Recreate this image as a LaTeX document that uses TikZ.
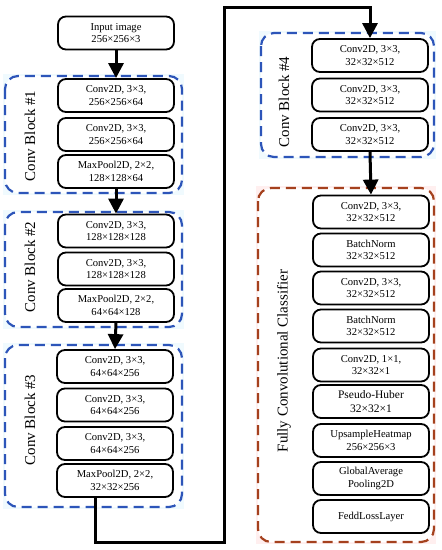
\documentclass[tikz,border=0pt]{standalone}
\usepackage{fontspec}
\setmainfont{Liberation Serif}
\usetikzlibrary{arrows.meta}
\definecolor{blockblue}{RGB}{45,85,185}
\definecolor{clsred}{RGB}{165,65,30}
\begin{document}
\begin{tikzpicture}[x=1pt,y=-1pt,
  layer/.style={draw=black,line width=1.8pt,rounded corners=8pt,fill=white,
    minimum width=116pt,minimum height=33pt,inner sep=1pt,align=center,
    font=\fontsize{10.6}{12.6}\selectfont},
  blockbox/.style={draw=blockblue,line width=2.2pt,dash pattern=on 10pt off 6pt,rounded corners=13pt,fill=white},
  clsbox/.style={draw=clsred,line width=2.2pt,dash pattern=on 10pt off 6pt,rounded corners=13pt,fill=white},
  blabel/.style={rotate=90,font=\fontsize{15}{17}\selectfont},
  flow/.style={line width=3pt,-{Triangle[length=15pt,width=15pt]}},
  flowline/.style={line width=3pt}
]
\useasboundingbox (0,0) rectangle (442,550);
% background tints
\fill[cyan!6] (3,74) rectangle (184,195);
\fill[cyan!6] (3,210) rectangle (184,329);
\fill[cyan!6] (3,343) rectangle (184,509);
\fill[cyan!6] (259,31) rectangle (436,159);
\fill[pink!25] (256,186) rectangle (436,544);
% block frames
\draw[blockbox] (5,76) rectangle (182,193);
\draw[blockbox] (5,212) rectangle (182,327);
\draw[blockbox] (5,345) rectangle (182,507);
\draw[blockbox] (261,33) rectangle (434,157);
\draw[clsbox] (258,188) rectangle (434,542);
% labels
\node[blabel] (l1) at (30,136) {Conv Block \#1};
\node[blabel] (l2) at (30,267) {Conv Block \#2};
\node[blabel] (l3) at (30,420) {Conv Block \#3};
\node[blabel] (l4) at (284,102) {Conv Block \#4};
\node[blabel] (l5) at (284,361) {Fully Convolutional Classifier};
% left column
\node[layer] (in) at (116,33) {Input image\\256×256×3};
\node[layer] (b1a) at (116,95.5) {Conv2D, 3×3,\\256×256×64};
\node[layer] (b1b) at (116,134.5) {Conv2D, 3×3,\\256×256×64};
\node[layer] (b1c) at (116,171.5) {MaxPool2D, 2×2,\\128×128×64};
\node[layer] (b2a) at (116,231) {Conv2D, 3×3,\\128×128×128};
\node[layer] (b2b) at (116,269) {Conv2D, 3×3,\\128×128×128};
\node[layer] (b2c) at (116,305.5) {MaxPool2D, 2×2,\\64×64×128};
\node[layer] (b3a) at (115,366.5) {Conv2D, 3×3,\\64×64×256};
\node[layer] (b3b) at (115,405) {Conv2D, 3×3,\\64×64×256};
\node[layer] (b3c) at (115,443.5) {Conv2D, 3×3,\\64×64×256};
\node[layer] (b3d) at (115,480.5) {MaxPool2D, 2×2,\\32×32×256};
% right column
\node[layer] (b4a) at (370,55.5) {Conv2D, 3×3,\\32×32×512};
\node[layer] (b4b) at (370,95) {Conv2D, 3×3,\\32×32×512};
\node[layer] (b4c) at (370,134.5) {Conv2D, 3×3,\\32×32×512};
\node[layer] (c1) at (371,212) {Conv2D, 3×3,\\32×32×512};
\node[layer] (c2) at (371,250) {BatchNorm\\32×32×512};
\node[layer] (c3) at (371,288) {Conv2D, 3×3,\\32×32×512};
\node[layer] (c4) at (371,326) {BatchNorm\\32×32×512};
\node[layer] (c5) at (371,365) {Conv2D, 1×1,\\32×32×1};
\node[layer,font=\fontsize{11.5}{13.5}\selectfont] (c6) at (371,401.5) {Pseudo-Huber\\32×32×1};
\node[layer] (c7) at (371,440.5) {UpsampleHeatmap\\256×256×3};
\node[layer] (c8) at (371,478.5) {GlobalAverage\\Pooling2D};
\node[layer] (c9) at (371,516.5) {FeddLossLayer};
% connectors
\draw[flow] (in.south) -- (b1a.north);
\draw[flow] (b1c.south) -- (b2a.north);
\draw[flow] (b2c.south) -- (b3a.north);
\coordinate (p0) at (95,497);
\coordinate (p1) at (95,542);
\coordinate (p2) at (224,542);
\coordinate (p3) at (224,7);
\coordinate (p4) at (370,7);
\draw[flow,rounded corners=0pt] (p0) -- (p1) -- (p2) -- (p3) -- (p4) -- (b4a.north);
\draw[flow] (b4c.south) -- (c1.north);
\end{tikzpicture}
\end{document}
